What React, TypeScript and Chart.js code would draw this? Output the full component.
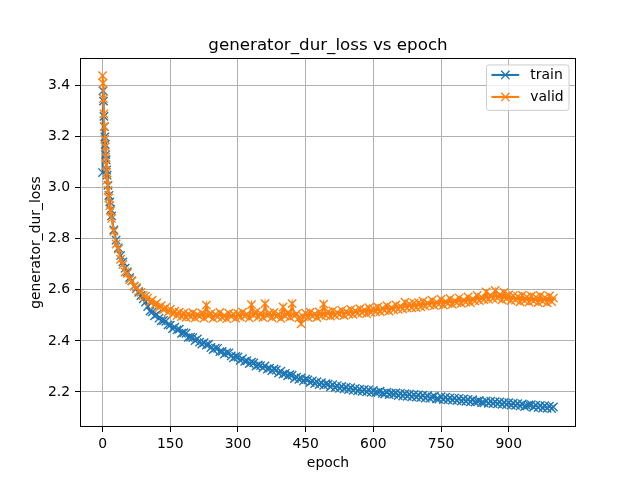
import React, { useEffect, useRef } from "react";
import { Chart, registerables } from "chart.js";

Chart.register(...registerables);

const TITLE = "generator_dur_loss vs epoch";
const X_LABEL = "epoch";
const Y_LABEL = "generator_dur_loss";
const SERIES_NAMES = ["train", "valid"];
const COLORS = ["#1f77b4", "#ff7f0e"];
const X_TICKS = [0, 150, 300, 450, 600, 750, 900];
const Y_TICKS = [2.2, 2.4, 2.6, 2.8, 3.0, 3.2, 3.4];

const EPOCHS = [
  0, 1, 2, 3, 4, 5, 6, 7, 8, 9, 10,
  12, 14, 16, 18,
  20, 25, 30, 35, 40, 45, 50, 55, 60, 65, 70, 75, 80, 85, 90, 95,
  100, 105, 110, 115, 120, 125, 130, 135, 140, 145, 150, 155, 160, 165, 170, 175, 180, 185, 190, 195,
  200, 205, 210, 215, 220, 225, 230, 235, 240, 245, 250, 255, 260, 265, 270, 275, 280, 285, 290, 295,
  300, 305, 310, 315, 320, 325, 330, 335, 340, 345, 350, 355, 360, 365, 370, 375, 380, 385, 390, 395,
  400, 405, 410, 415, 420, 425, 430, 435, 440, 445, 450, 455, 460, 465, 470, 475, 480, 485, 490, 495,
  500, 505, 510, 515, 520, 525, 530, 535, 540, 545, 550, 555, 560, 565, 570, 575, 580, 585, 590, 595,
  600, 605, 610, 615, 620, 625, 630, 635, 640, 645, 650, 655, 660, 665, 670, 675, 680, 685, 690, 695,
  700, 705, 710, 715, 720, 725, 730, 735, 740, 745, 750, 755, 760, 765, 770, 775, 780, 785, 790, 795,
  800, 805, 810, 815, 820, 825, 830, 835, 840, 845, 850, 855, 860, 865, 870, 875, 880, 885, 890, 895,
  900, 905, 910, 915, 920, 925, 930, 935, 940, 945, 950, 955, 960, 965, 970, 975, 980, 985, 990, 995,
  999,
];

const TRAIN = [
  3.06, 3.38, 3.34, 3.28, 3.24, 3.2, 3.17, 3.13, 3.11, 3.07, 3.05,
  3.01, 2.97, 2.945, 2.915,
  2.89, 2.835, 2.795, 2.765, 2.735, 2.71, 2.685, 2.67, 2.648, 2.635, 2.615, 2.605, 2.59, 2.578, 2.565, 2.552,
  2.535, 2.517, 2.514, 2.498, 2.504, 2.489, 2.479, 2.48, 2.477, 2.463, 2.462, 2.448, 2.454, 2.443, 2.446, 2.43, 2.432, 2.43, 2.414, 2.415,
  2.413, 2.401, 2.408, 2.395, 2.388, 2.393, 2.384, 2.387, 2.374, 2.366, 2.372, 2.371, 2.358, 2.359, 2.348, 2.354, 2.353, 2.341, 2.334, 2.339,
  2.337, 2.324, 2.33, 2.32, 2.323, 2.311, 2.317, 2.314, 2.301, 2.306, 2.303, 2.294, 2.302, 2.29, 2.293, 2.284, 2.29, 2.286, 2.274, 2.281,
  2.27, 2.273, 2.263, 2.268, 2.266, 2.252, 2.258, 2.249, 2.255, 2.243, 2.25, 2.247, 2.237, 2.243, 2.233, 2.24, 2.229, 2.236, 2.226, 2.232,
  2.23, 2.22, 2.228, 2.217, 2.225, 2.214, 2.222, 2.212, 2.219, 2.209, 2.217, 2.206, 2.214, 2.204, 2.211, 2.202, 2.21, 2.2, 2.208, 2.198,
  2.206, 2.197, 2.199, 2.203, 2.194, 2.192, 2.199, 2.19, 2.195, 2.191, 2.196, 2.186, 2.194, 2.184, 2.193, 2.183, 2.191, 2.181, 2.19, 2.18,
  2.188, 2.178, 2.187, 2.176, 2.185, 2.175, 2.18, 2.183, 2.173, 2.172, 2.181, 2.17, 2.179, 2.169, 2.177, 2.168, 2.176, 2.166, 2.175, 2.164,
  2.173, 2.163, 2.171, 2.161, 2.17, 2.16, 2.164, 2.166, 2.158, 2.157, 2.165, 2.155, 2.164, 2.154, 2.162, 2.153, 2.161, 2.151, 2.159, 2.15,
  2.158, 2.148, 2.156, 2.147, 2.154, 2.145, 2.153, 2.143, 2.146, 2.149, 2.15, 2.14, 2.148, 2.139, 2.147, 2.137, 2.146, 2.136, 2.144, 2.135,
  2.141,
];

const VALID = [
  3.44, 3.41, 3.35, 3.29, 3.24, 3.19, 3.16, 3.12, 3.09, 3.06, 3.03,
  2.99, 2.96, 2.93, 2.91,
  2.88, 2.83, 2.78, 2.76, 2.72, 2.7, 2.67, 2.665, 2.64, 2.635, 2.615, 2.61, 2.595, 2.59, 2.578, 2.575,
  2.568, 2.552, 2.56, 2.541, 2.549, 2.53, 2.538, 2.522, 2.531, 2.512, 2.524, 2.506, 2.517, 2.499, 2.513, 2.495, 2.509, 2.492, 2.506, 2.494,
  2.511, 2.49, 2.503, 2.496, 2.51, 2.489, 2.54, 2.498, 2.508, 2.488, 2.504, 2.494, 2.512, 2.491, 2.5, 2.487, 2.509, 2.495, 2.505, 2.489,
  2.507, 2.493, 2.513, 2.497, 2.505, 2.49, 2.542, 2.5, 2.514, 2.494, 2.508, 2.492, 2.546, 2.499, 2.51, 2.491, 2.512, 2.496, 2.504, 2.488,
  2.533, 2.497, 2.511, 2.493, 2.546, 2.498, 2.507, 2.49, 2.467, 2.495, 2.509, 2.492, 2.513, 2.496, 2.506, 2.491, 2.514, 2.498, 2.544, 2.5,
  2.515, 2.497, 2.518, 2.5, 2.512, 2.503, 2.52, 2.499, 2.516, 2.505, 2.523, 2.504, 2.519, 2.508, 2.526, 2.51, 2.522, 2.507, 2.53, 2.512,
  2.526, 2.514, 2.533, 2.515, 2.528, 2.519, 2.538, 2.517, 2.531, 2.522, 2.541, 2.524, 2.536, 2.526, 2.552, 2.529, 2.545, 2.53, 2.548, 2.531,
  2.55, 2.534, 2.556, 2.536, 2.549, 2.54, 2.56, 2.538, 2.552, 2.543, 2.564, 2.54, 2.555, 2.546, 2.566, 2.543, 2.558, 2.549, 2.569, 2.547,
  2.561, 2.552, 2.572, 2.55, 2.565, 2.556, 2.578, 2.558, 2.57, 2.562, 2.592, 2.563, 2.578, 2.566, 2.598, 2.568, 2.582, 2.561, 2.59, 2.565,
  2.58, 2.558, 2.577, 2.56, 2.574, 2.553, 2.579, 2.557, 2.572, 2.552, 2.576, 2.556, 2.571, 2.55, 2.578, 2.555, 2.57, 2.549, 2.576, 2.554,
  2.568,
];

const FONT = '"DejaVu Sans", sans-serif';

function drawX(ctx: CanvasRenderingContext2D, x: number, y: number, h: number) {
  ctx.beginPath();
  ctx.moveTo(x - h, y - h);
  ctx.lineTo(x + h, y + h);
  ctx.moveTo(x - h, y + h);
  ctx.lineTo(x + h, y - h);
  ctx.stroke();
}

const decorPlugin = {
  id: "decor",
  afterDraw(chart: any) {
    const ctx: CanvasRenderingContext2D = chart.ctx;
    const a = chart.chartArea;
    ctx.save();
    // axes box
    ctx.strokeStyle = "#000";
    ctx.lineWidth = 1;
    const l = Math.round(a.left) + 0.5;
    const t = Math.round(a.top) + 0.5;
    const r = Math.round(a.right) - 0.5;
    const b = Math.round(a.bottom) - 0.5;
    ctx.strokeRect(l, t, r - l, b - t);

    // title
    ctx.fillStyle = "#000";
    ctx.font = `16.7px ${FONT}`;
    ctx.textAlign = "center";
    ctx.textBaseline = "alphabetic";
    const cx = (a.left + a.right) / 2;
    ctx.fillText(TITLE, cx, a.top - 8.5);

    // x label
    ctx.font = `13.9px ${FONT}`;
    ctx.fillText(X_LABEL, cx, 466.5);

    // y label
    ctx.save();
    ctx.translate(39.5, (a.top + a.bottom) / 2);
    ctx.rotate(-Math.PI / 2);
    ctx.fillText(Y_LABEL, 0, 0);
    ctx.restore();

    // legend
    const fs = 13.9;
    const bw = 82.6;
    const bh = 45.4;
    const bx = a.right - 6.95 - bw;
    const by = a.top + 6.95;
    ctx.beginPath();
    if ((ctx as any).roundRect) {
      (ctx as any).roundRect(bx, by, bw, bh, 2.8);
    } else {
      ctx.rect(bx, by, bw, bh);
    }
    ctx.fillStyle = "rgba(255,255,255,0.8)";
    ctx.fill();
    ctx.strokeStyle = "#cccccc";
    ctx.lineWidth = 1;
    ctx.stroke();

    const rows = [by + 10, by + 32];
    const lx0 = bx + 5;
    const lx1 = lx0 + 27.8;
    SERIES_NAMES.forEach((name, i) => {
      const ry = rows[i];
      ctx.strokeStyle = COLORS[i];
      ctx.lineWidth = 2.08;
      ctx.beginPath();
      ctx.moveTo(lx0, ry);
      ctx.lineTo(lx1, ry);
      ctx.stroke();
      ctx.lineWidth = 1.39;
      drawX(ctx, (lx0 + lx1) / 2, ry, 4.17);
      ctx.fillStyle = "#000";
      ctx.font = `${fs}px ${FONT}`;
      ctx.textAlign = "left";
      ctx.textBaseline = "middle";
      ctx.fillText(name, lx1 + 11.1, ry);
    });
    ctx.restore();
  },
};

export default function App() {
  const ref = useRef<HTMLCanvasElement | null>(null);

  useEffect(() => {
    document.body.style.margin = "0";
    const canvas = ref.current;
    if (!canvas) return;
    const mk = (vals: number[]) => EPOCHS.map((e, i) => ({ x: e, y: vals[i] }));
    const series = [TRAIN, VALID];
    const chart = new Chart(canvas, {
      type: "line",
      data: {
        datasets: SERIES_NAMES.map((name, i) => ({
          label: name,
          data: mk(series[i]),
          borderColor: COLORS[i],
          backgroundColor: COLORS[i],
          borderWidth: 2.08,
          pointStyle: "crossRot",
          pointRadius: 5.9,
          pointBorderWidth: 1.39,
          pointBorderColor: COLORS[i],
          pointBackgroundColor: COLORS[i],
          tension: 0,
          fill: false,
          order: i === 0 ? 1 : 0,
        })),
      },
      options: {
        animation: false,
        responsive: false,
        devicePixelRatio: 1,
        layout: { padding: { top: 58, right: 64, left: 0, bottom: 0 } },
        plugins: {
          legend: { display: false },
          title: { display: false },
          tooltip: { enabled: false },
        },
        scales: {
          x: {
            type: "linear",
            min: -50,
            max: 1049,
            afterBuildTicks: (scale: any) => {
              scale.ticks = X_TICKS.map((v) => ({ value: v }));
            },
            afterFit: (scale: any) => {
              scale.height = 53;
            },
            grid: {
              color: "#b0b0b0",
              lineWidth: 1,
              drawTicks: true,
              tickLength: 5,
              tickColor: "#000",
              tickWidth: 1,
            },
            border: { display: false },
            ticks: {
              color: "#000",
              font: { family: FONT, size: 13.9 },
              padding: 4,
              maxRotation: 0,
              autoSkip: false,
              callback: (v: any) => String(v),
            },
          },
          y: {
            type: "linear",
            min: 2.0625,
            max: 3.509,
            afterBuildTicks: (scale: any) => {
              scale.ticks = Y_TICKS.map((v) => ({ value: v }));
            },
            afterFit: (scale: any) => {
              scale.width = 80;
            },
            grid: {
              color: "#b0b0b0",
              lineWidth: 1,
              drawTicks: true,
              tickLength: 5,
              tickColor: "#000",
              tickWidth: 1,
            },
            border: { display: false },
            ticks: {
              color: "#000",
              font: { family: FONT, size: 13.9 },
              padding: 5,
              autoSkip: false,
              callback: (v: any) => Number(v).toFixed(1),
            },
          },
        },
      },
      plugins: [decorPlugin],
    } as any);
    return () => chart.destroy();
  }, []);

  return <canvas ref={ref} width={640} height={480} style={{ display: "block" }} />;
}
